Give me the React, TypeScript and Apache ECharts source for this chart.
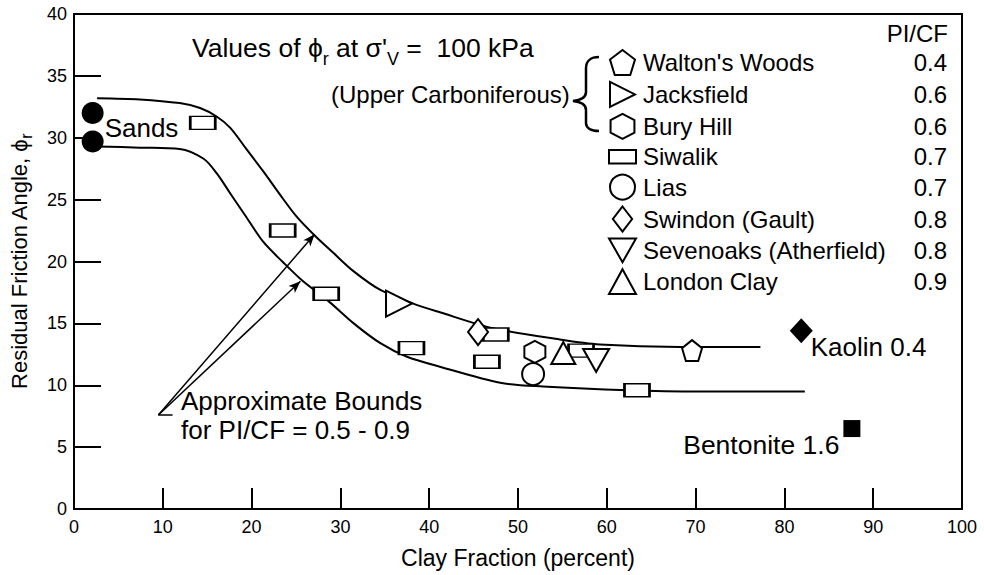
import React, { useEffect, useRef } from 'react';
import * as echarts from 'echarts';

const FONT = '"Liberation Sans", Arial, Helvetica, sans-serif';

// ---- data (clay fraction %, residual friction angle deg) ----
const upperBound: [number, number][] = [
  [2.6, 33.2], [7.4, 33.1], [11.9, 32.8], [14.2, 32.4], [16.1, 31.7], [17.6, 30.8],
  [19.4, 29.1], [21.3, 27.3], [23.2, 25.4], [25.1, 23.6], [27.1, 22.1], [29.2, 20.7],
  [31.5, 19.2], [34.5, 17.7], [38.2, 16.6], [41.2, 15.9], [47.2, 14.6], [54.7, 13.7],
  [59.2, 13.3], [68.2, 13.1], [77.3, 13.1],
];
const lowerBound: [number, number][] = [
  [2.6, 29.3], [7.4, 29.2], [11.9, 29.1], [14.6, 28.3], [16.1, 27.1], [17.6, 25.5],
  [19.4, 23.6], [21.3, 21.6], [23.6, 19.9], [25.8, 18.4], [28.5, 16.9], [31.5, 15.0],
  [34.5, 13.4], [37.5, 12.3], [41.2, 11.5], [48.0, 10.2], [52.8, 9.9], [62.3, 9.6],
  [70.5, 9.5], [82.3, 9.5],
];
const sands: [number, number][] = [[2.1, 32.0], [2.1, 29.7]];
const waltonsWoods: [number, number][] = [[69.6, 12.8]];
const jacksfield: [number, number][] = [[36.6, 16.6]];
const buryHill: [number, number][] = [[51.9, 12.7]];
const siwalik: [number, number][] = [
  [14.5, 31.2], [23.5, 22.5], [28.4, 17.4], [38.0, 13.0], [47.5, 14.1], [46.5, 11.9],
  [57.1, 12.8], [63.4, 9.6],
];
const lias: [number, number][] = [[51.7, 10.9]];
const swindon: [number, number][] = [[45.5, 14.3]];
const sevenoaks: [number, number][] = [[58.8, 12.0]];
const londonClay: [number, number][] = [[55.1, 12.6]];
const kaolin: [number, number][] = [[81.9, 14.4]];
const bentonite: [number, number][] = [[87.6, 6.5]];

const legendNames = [
  "Walton's Woods", 'Jacksfield', 'Bury Hill', 'Siwalik', 'Lias',
  'Swindon (Gault)', 'Sevenoaks (Atherfield)', 'London Clay',
];
const piCfValues = ['0.4', '0.6', '0.6', '0.7', '0.7', '0.8', '0.8', '0.9'];

const arrowApex: [number, number] = [9.5, 7.6];
const arrowTargets: [number, number][] = [[27.1, 22.2], [25.5, 18.4]];
const apexTickEnd: [number, number] = [11.1, 7.6];

// ---- symbols ----
const PENTAGON = 'path://M10,0 L20,7.6 L16.2,20 L3.8,20 L0,7.6 Z';
const HEXAGON = 'path://M10.5,0 L21,5.5 L21,16.5 L10.5,22 L0,16.5 L0,5.5 Z';
const TRI_RIGHT = 'path://M0,0 L26,13 L0,26 Z';
const TRI_DOWN = 'path://M0,0 L26,0 L13,23 Z';
const TRI_UP = 'path://M12,0 L24,22 L0,22 Z';
const DIAMOND = 'path://M10,0 L20,13 L10,26 L0,13 Z';
const RECT = 'path://M0,0 L26,0 L26,13 L0,13 Z';

echarts.graphic.registerShape(
  'brace',
  echarts.graphic.extendPath(
    'M599,57 C591,57 586,61 586,68 L586,92 C586,97 582,100 573,101 C582,102 586,105 586,110 L586,123 C586,128 591,131 599,131',
    {}
  ) as any
);

const openStyle = { color: '#fff', borderColor: '#000', borderWidth: 2, opacity: 1 };

function scatter(name: string, data: [number, number][], symbol: string, symbolSize: any) {
  return {
    name,
    type: 'scatter',
    data,
    symbol,
    symbolSize,
    itemStyle: openStyle,
    z: 4,
    silent: true,
  };
}

export default function App() {
  const ref = useRef<HTMLDivElement>(null);

  useEffect(() => {
    if (!ref.current) return;
    const chart = echarts.init(ref.current, undefined, { renderer: 'svg' });
    const piMap: Record<string, string> = {};
    legendNames.forEach((n, i) => (piMap[n] = piCfValues[i]));

    const option: any = {
      animation: false,
      backgroundColor: '#fff',
      textStyle: { fontFamily: FONT },
      grid: {
        left: 74, right: 22, top: 14, bottom: 66,
        containLabel: false, outerBoundsMode: 'none',
        show: true, borderColor: '#000', borderWidth: 2, backgroundColor: 'transparent',
      },
      xAxis: {
        type: 'value', min: 0, max: 100, interval: 10,
        name: 'Clay Fraction (percent)', nameLocation: 'middle', nameGap: 37,
        nameTextStyle: { fontSize: 23, color: '#000', fontFamily: FONT },
        axisLine: { lineStyle: { color: '#000', width: 2 } },
        axisTick: { inside: true, length: 21, lineStyle: { color: '#000', width: 2 } },
        axisLabel: { fontSize: 18, color: '#000', margin: 9, fontFamily: FONT },
        splitLine: { show: false },
      },
      yAxis: {
        type: 'value', min: 0, max: 40, interval: 5,
        name: 'Residual Friction Angle, ϕ{r|r}', nameLocation: 'middle', nameGap: 40,
        nameTextStyle: {
          fontSize: 22, color: '#000', fontFamily: FONT, lineHeight: 30,
          rich: { r: { fontSize: 16, lineHeight: 16, verticalAlign: 'bottom', fontFamily: FONT, color: '#000' } },
        },
        axisLine: { lineStyle: { color: '#000', width: 2 } },
        axisTick: { inside: true, length: 27, lineStyle: { color: '#000', width: 2 } },
        axisLabel: { fontSize: 18, color: '#000', margin: 7, fontFamily: FONT },
        splitLine: { show: false },
      },
      legend: {
        data: legendNames,
        orient: 'vertical',
        left: 608, top: 49,
        padding: 0,
        itemWidth: 27, itemHeight: 25, itemGap: 4.9,
        symbolKeepAspect: true,
        selectedMode: false,
        itemStyle: { color: '#fff', borderColor: '#000', borderWidth: 2, opacity: 1 },
        formatter: (name: string) => `{n|${name}}{v|${piMap[name]}}`,
        textStyle: {
          color: '#000', fontFamily: FONT, fontSize: 24,
          rich: {
            n: { width: 258, fontSize: 24, lineHeight: 26, fontFamily: FONT, color: '#000', padding: [0, 0, 0, 2] },
            v: { width: 46, align: 'right', fontSize: 24, lineHeight: 26, fontFamily: FONT, color: '#000' },
          },
        },
      },
      graphic: [
        {
          type: 'text', x: 192, y: 47.5, silent: true,
          style: {
            text: 'Values of ϕ{s|r} at σ\'{s|V} =  100 kPa',
            fill: '#000', fontSize: 26.5, fontFamily: FONT, lineHeight: 40,
            verticalAlign: 'middle', align: 'left',
            rich: { s: { fontSize: 18, lineHeight: 18, verticalAlign: 'bottom', fontFamily: FONT, fill: '#000' } },
          },
        },
        {
          type: 'text', x: 331, y: 94.5, silent: true,
          style: { text: '(Upper Carboniferous)', fill: '#000', fontSize: 24, fontFamily: FONT, verticalAlign: 'middle', align: 'left' },
        },
        {
          type: 'brace', x: 0, y: 0, silent: true,
          style: { fill: 'none', stroke: '#000', lineWidth: 2.5 },
        },
        {
          type: 'text', x: 948, y: 33.5, silent: true,
          style: { text: 'PI/CF', fill: '#000', fontSize: 24, fontFamily: FONT, verticalAlign: 'middle', align: 'right' },
        },
        {
          type: 'text', x: 181, y: 400.5, silent: true,
          style: { text: 'Approximate Bounds', fill: '#000', fontSize: 26, fontFamily: FONT, verticalAlign: 'middle', align: 'left' },
        },
        {
          type: 'text', x: 181, y: 429.5, silent: true,
          style: { text: 'for PI/CF = 0.5 - 0.9', fill: '#000', fontSize: 26, fontFamily: FONT, verticalAlign: 'middle', align: 'left' },
        },
      ],
      series: [
        {
          name: 'Upper bound', type: 'line', data: upperBound, smooth: 0.3, showSymbol: false,
          lineStyle: { color: '#000', width: 2 }, z: 2, silent: true,
        },
        {
          name: 'Lower bound', type: 'line', data: lowerBound, smooth: 0.3, showSymbol: false,
          lineStyle: { color: '#000', width: 2 }, z: 2, silent: true,
          markLine: {
            silent: true,
            symbol: ['none', 'arrow'],
            symbolSize: [7, 12],
            label: { show: false },
            lineStyle: { color: '#000', width: 1.5, type: 'solid' },
            data: [
              [{ coord: arrowApex }, { coord: arrowTargets[0] }],
              [{ coord: arrowApex }, { coord: arrowTargets[1] }],
              [{ coord: arrowApex, symbol: 'none' }, { coord: apexTickEnd, symbol: 'none' }],
            ],
          },
        },
        scatter("Walton's Woods", waltonsWoods, PENTAGON, [20, 21]),
        scatter('Jacksfield', jacksfield, TRI_RIGHT, [26, 26]),
        scatter('Bury Hill', buryHill, HEXAGON, [21, 22]),
        scatter('Siwalik', siwalik, RECT, [25, 13]),
        scatter('Lias', lias, 'circle', 22),
        scatter('Swindon (Gault)', swindon, DIAMOND, [20, 26]),
        scatter('Sevenoaks (Atherfield)', sevenoaks, TRI_DOWN, [26, 23]),
        scatter('London Clay', londonClay, TRI_UP, [24, 22]),
        {
          name: 'Sands', type: 'scatter', symbol: 'circle', symbolSize: 22, z: 4, silent: true,
          itemStyle: { color: '#000', opacity: 1 },
          data: [
            {
              value: sands[0],
              label: {
                show: true, formatter: 'Sands', position: 'right', distance: 1, offset: [0, 15],
                fontSize: 26, color: '#000', fontFamily: FONT,
              },
            },
            { value: sands[1] },
          ],
        },
        {
          name: 'Kaolin', type: 'scatter', symbol: 'diamond', symbolSize: [23, 25], z: 4, silent: true,
          itemStyle: { color: '#000', opacity: 1 },
          label: {
            show: true, formatter: 'Kaolin 0.4', position: 'right', distance: -2, offset: [0, 16.5],
            fontSize: 26, color: '#000', fontFamily: FONT,
          },
          data: kaolin,
        },
        {
          name: 'Bentonite', type: 'scatter', symbol: 'rect', symbolSize: 17, z: 4, silent: true,
          itemStyle: { color: '#000', opacity: 1 },
          label: {
            show: true, formatter: 'Bentonite 1.6', position: 'left', distance: 4, offset: [0, 16.5],
            fontSize: 26.5, color: '#000', fontFamily: FONT,
          },
          data: bentonite,
        },
      ],
    };
    chart.setOption(option);
    return () => chart.dispose();
  }, []);

  return (
    <div
      ref={ref}
      style={{ position: 'fixed', left: 0, top: 0, width: 984, height: 575, background: '#fff' }}
    />
  );
}
